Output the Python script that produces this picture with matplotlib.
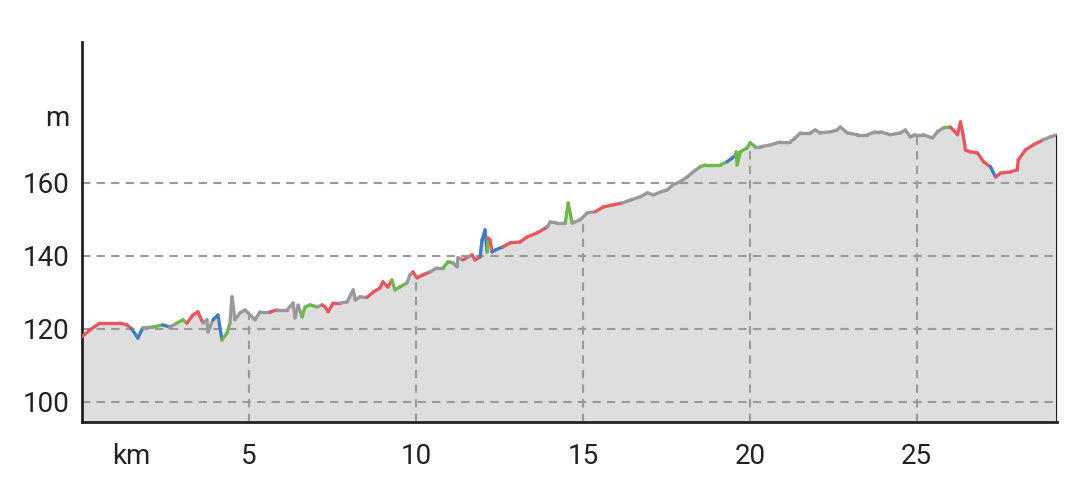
import numpy as np
import matplotlib
matplotlib.use('Agg')
import matplotlib.pyplot as plt
from matplotlib.collections import LineCollection

plt.rcParams['font.family'] = ['Roboto', 'DejaVu Sans']

# distance (km), elevation (m), slope class of the segment starting at each point
km = [0.00, 0.23, 0.53, 0.83, 1.13, 1.34, 1.49, 1.67, 1.82, 2.12, 2.42, 2.63, 2.84, 3.02, 3.14, 3.32,
      3.47, 3.62, 3.74, 3.77, 3.92, 4.07, 4.19, 4.34, 4.43, 4.49, 4.58, 4.73, 4.88, 4.97, 5.18, 5.33,
      5.63, 5.84, 6.14, 6.32, 6.38, 6.47, 6.59, 6.68, 6.83, 7.04, 7.19, 7.28, 7.37, 7.52, 7.73, 7.94,
      8.12, 8.18, 8.32, 8.53, 8.72, 8.92, 9.01, 9.16, 9.28, 9.37, 9.52, 9.73, 9.82, 9.91, 10.03, 10.21,
      10.42, 10.63, 10.81, 10.96, 11.11, 11.23, 11.26, 11.41, 11.56, 11.68, 11.77, 11.92, 11.98, 12.07,
      12.13, 12.16, 12.22, 12.28, 12.37, 12.61, 12.82, 13.12, 13.33, 13.63, 13.93, 14.02, 14.23, 14.41,
      14.47, 14.56, 14.68, 14.92, 15.13, 15.37, 15.61, 15.91, 16.18, 16.42, 16.72, 16.93, 17.11, 17.32,
      17.53, 17.70, 17.91, 18.12, 18.30, 18.51, 18.66, 19.11, 19.32, 19.47, 19.56, 19.59, 19.62, 19.71,
      19.92, 20.01, 20.16, 20.31, 20.61, 20.91, 21.21, 21.36, 21.51, 21.81, 21.96, 22.11, 22.41, 22.62,
      22.71, 22.92, 23.22, 23.52, 23.76, 23.91, 24.21, 24.51, 24.66, 24.81, 24.96, 25.20, 25.47, 25.62,
      25.80, 26.00, 26.15, 26.22, 26.31, 26.40, 26.46, 26.61, 26.82, 27.00, 27.21, 27.36, 27.51, 27.81,
      28.01, 28.04, 28.25, 28.49, 28.79, 29.00, 29.21]
elev = [117.9, 119.7, 121.6, 121.6, 121.6, 121.1, 120.0, 117.5, 120.3, 120.5, 121.1, 120.5, 121.6, 122.5, 121.6, 123.8,
        124.7, 121.6, 122.5, 119.2, 122.5, 123.8, 117.0, 118.9, 121.6, 128.8, 122.5, 124.4, 125.2, 124.4, 122.5, 124.7,
        124.7, 125.2, 125.2, 127.1, 123.0, 126.5, 123.3, 126.0, 126.6, 126.0, 126.6, 126.0, 124.7, 127.1, 127.1, 127.4,
        130.7, 127.9, 128.8, 128.6, 130.1, 131.2, 132.9, 131.5, 133.4, 130.7, 131.5, 132.6, 134.8, 135.6, 134.0, 134.8,
        135.6, 136.7, 136.7, 138.4, 138.1, 137.0, 139.5, 138.9, 139.7, 140.3, 138.9, 139.7, 144.4, 147.1,
        141.1, 144.9, 144.4, 141.1, 141.6, 142.5, 143.6, 143.8, 145.2, 146.3, 147.9, 149.3, 149.0, 149.0,
        149.0, 154.5, 149.0, 149.9, 151.8, 152.1, 153.4, 154.0, 154.5, 155.3, 156.2, 157.3, 156.7, 157.5,
        158.1, 159.5, 160.3, 161.6, 163.0, 164.4, 164.9, 164.9, 165.8, 166.8, 167.5, 168.5, 164.9, 168.5,
        169.6, 171.0, 169.9, 169.9, 170.4, 171.2, 171.2, 172.3, 173.7, 173.7, 174.5, 173.7, 174.0, 174.5,
        175.3, 173.7, 173.2, 173.2, 174.0, 174.0, 173.2, 173.7, 174.5, 172.6, 173.2, 173.2, 172.3, 174.0,
        175.1, 175.3, 174.0, 173.2, 176.7, 172.6, 169.0, 168.5, 168.2, 165.8, 164.4, 161.6, 162.7, 163.0,
        163.6, 166.3, 169.0, 170.4, 171.8, 172.6, 173.2]
slope = list('RRRRRRBBKGBKGGRR'
             'RKKKBBGGKKKKKKKK'
             'RKKKKKGGGKRRRRKK'
             'KKKRRRRRGGGKKRRR'
             'KKGGKKKRKRRBBB'
             'GRRBBRRRRRKKKK'
             'GGKKKRRRKKKKKK'
             'KKKKKGGGBBKGGG'
             'GGKKKKKKKKKKKK'
             'KKKKKKKKKKKKKK'
             'GRRRRRRRRRBRRR'
             'RRRRKKK')

yticks = [100, 120, 140, 160, 178.5]
ytick_labels = ['100', '120', '140', '160', 'm']
xticks = [5, 10, 15, 20, 25]

colors = {'R': '#e8575f', 'G': '#6ab94a', 'B': '#3f7cc4', 'K': '#999999'}

fig = plt.figure(figsize=(10.8, 5), dpi=100)
ax = fig.add_axes([0.076, 0.156, 0.903, 0.76])
ymin, ymax = 94.5, 198.6
ax.set_xlim(0, km[-1])
ax.set_ylim(ymin, ymax)

ax.fill_between(km, elev, ymin, color='#dedede', lw=0, zorder=1)

for y in yticks[:-1]:
    ax.axhline(y, color='#9a9a9a', lw=1.5, dashes=(4, 3), zorder=2)
ax.vlines(xticks, ymin, np.interp(xticks, km, elev), color='#9a9a9a', lw=1.5,
          linestyles=(0, (4, 3)), zorder=2)

pts = np.column_stack([km, elev])
segs = [pts[i:i + 2] for i in range(len(km) - 1)]
lc = LineCollection(segs, colors=[colors[c] for c in slope[:len(segs)]], linewidths=2.4,
                    capstyle='round', joinstyle='round', zorder=3)
ax.add_collection(lc)

ax.vlines(km[-1], ymin, elev[-1], color='#222222', lw=2.2, zorder=4)

ax.spines['top'].set_visible(False)
ax.spines['right'].set_visible(False)
ax.spines['left'].set_linewidth(2)
ax.spines['bottom'].set_linewidth(2)
ax.spines['left'].set_color('#222222')
ax.spines['bottom'].set_color('#222222')

ax.set_yticks(yticks)
ax.set_yticklabels(ytick_labels)
ax.set_xticks([1.47] + xticks)
ax.set_xticklabels(['km'] + [str(x) for x in xticks])
ax.tick_params(axis='both', length=0, labelsize=20, labelcolor='#222222')
ax.tick_params(axis='y', pad=9)
ax.tick_params(axis='x', pad=15)

fig.savefig('out.png', dpi=100)
